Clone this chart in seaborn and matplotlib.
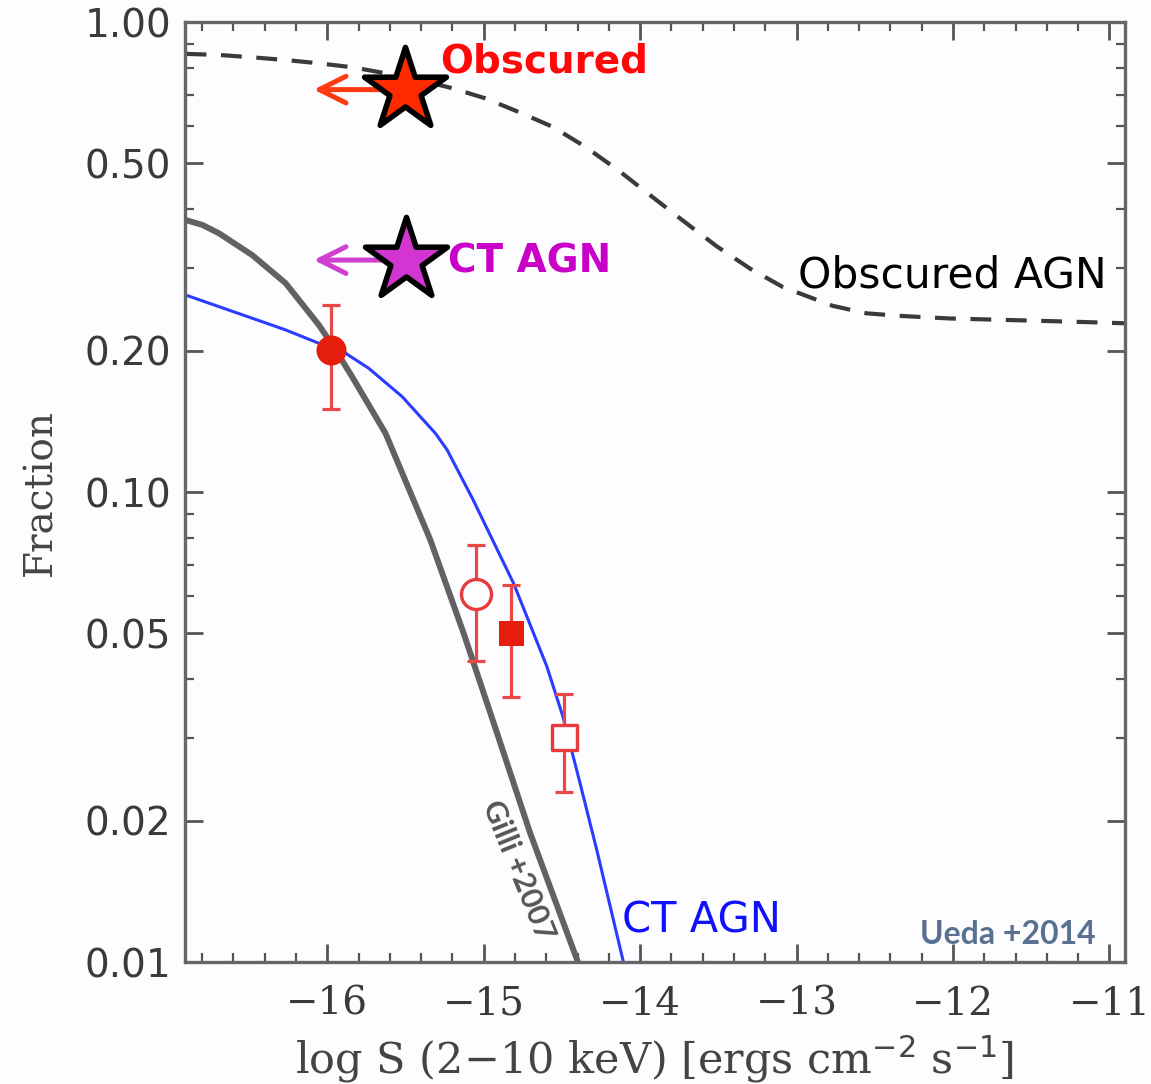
import numpy as np
import pandas as pd
import matplotlib
matplotlib.use("Agg")
import matplotlib.pyplot as plt
import seaborn as sns
from matplotlib.ticker import FixedLocator, LogLocator, MultipleLocator, NullFormatter

# ---------------- data ----------------
# Obscured AGN fraction curve (dashed)
obs_x = [-16.906, -16.883, -16.694, -16.477, -16.266, -16.056, -15.839, -15.628, -15.418,
         -15.201, -14.990, -14.779, -14.562, -14.352, -14.141, -13.924, -13.713,
         -13.509, -13.299, -13.088, -12.770, -12.553, -12.341, -12.022, -11.595,
         -11.173, -10.893]
obs_y = [0.856, 0.855, 0.851, 0.841, 0.830, 0.817, 0.801, 0.778, 0.753,
         0.723, 0.688, 0.644, 0.599, 0.543, 0.484, 0.425, 0.375,
         0.333, 0.299, 0.273, 0.249, 0.240, 0.237, 0.234, 0.232,
         0.230, 0.2285]

# CT AGN fraction curve, Ueda +2014 (blue)
ct_x = [-16.906, -16.692, -16.479, -16.266, -16.054, -15.883, -15.735, -15.521,
        -15.309, -15.234, -15.067, -14.809, -14.596, -14.494, -14.384, -14.277, -14.107]
ct_y = [0.2625, 0.2479, 0.2342, 0.2212, 0.2072, 0.1973, 0.1833, 0.1595,
        0.1333, 0.1229, 0.0961, 0.0639, 0.0425, 0.0333, 0.0240, 0.0173, 0.0100]

# Gilli +2007 curve (gray)
gilli_x = [-16.906, -16.798, -16.692, -16.479, -16.266, -16.054, -15.947, -15.842,
           -15.628, -15.341, -15.128, -14.915, -14.703, -14.398]
gilli_y = [0.379, 0.370, 0.355, 0.319, 0.278, 0.2266, 0.2005, 0.176,
           0.1333, 0.0790, 0.0500, 0.0307, 0.0188, 0.0100]

# data points with error bars
pt_x = [-15.977, -15.047, -14.824, -14.484]
pt_y = [0.2005, 0.0607, 0.0502, 0.0301]
pt_lo = [0.150, 0.0437, 0.0367, 0.0230]
pt_hi = [0.250, 0.0771, 0.0634, 0.0372]
pt_marker = ["o", "o", "s", "s"]
pt_filled = [True, False, True, False]

# stars (upper limits in flux)
star_x = [-15.503, -15.495]
star_y = [0.718, 0.3115]
star_arrow_to = [-16.087, -16.087]
star_labels = ["Obscured", "CT AGN"]

x_ticks = [-16, -15, -14, -13, -12, -11]
x_ticklabels = ["\u221216", "\u221215", "\u221214", "\u221213", "\u221212", "\u221211"]
y_ticks = [0.01, 0.02, 0.05, 0.10, 0.20, 0.50, 1.00]
y_ticklabels = ["0.01", "0.02", "0.05", "0.10", "0.20", "0.50", "1.00"]

# ---------------- style ----------------
sns.set_theme(style="white")
plt.rcParams["font.family"] = ["DejaVu Sans"]

W, H, DPI = 1151, 1084, 100
BG = "#fdfcff"
fig = plt.figure(figsize=(W / DPI, H / DPI), dpi=DPI, facecolor=BG)
ax = fig.add_axes([185 / W, 1 - 962 / H, (1125 - 185) / W, (962 - 22) / H])
ax.set_facecolor(BG)

ax.set_yscale("log")
ax.set_xlim(-16.91, -10.90)
ax.set_ylim(0.01, 1.0)

obs_df = pd.DataFrame({"x": obs_x, "y": obs_y})
ct_df = pd.DataFrame({"x": ct_x, "y": ct_y})
gilli_df = pd.DataFrame({"x": gilli_x, "y": gilli_y})

sns.lineplot(data=obs_df, x="x", y="y", ax=ax, color="#3a3a3a", lw=3.0,
             linestyle=(0, (5, 3.5)), sort=True, estimator=None)
sns.lineplot(data=gilli_df, x="x", y="y", ax=ax, color="#626262", lw=4.3,
             sort=True, estimator=None)
sns.lineplot(data=ct_df, x="x", y="y", ax=ax, color="#2a3cff", lw=2.2,
             sort=True, estimator=None)

# error bars
red = "#e41e0a"
for x, y, lo, hi in zip(pt_x, pt_y, pt_lo, pt_hi):
    ax.errorbar([x], [y], yerr=[[y - lo], [hi - y]], fmt="none", ecolor="#ea4848",
                elinewidth=2.3, capsize=6.5, capthick=2.3, zorder=3)
pts = pd.DataFrame({"x": pt_x, "y": pt_y, "m": pt_marker, "f": pt_filled})
for i, row in pts.iterrows():
    size = 30 if row["m"] == "o" else 25
    sns.scatterplot(x=[row["x"]], y=[row["y"]], ax=ax, marker=row["m"],
                    s=(size * 0.72) ** 2,
                    color=red if row["f"] else BG,
                    edgecolor=red if row["f"] else "#e83a3a",
                    linewidth=0 if row["f"] else 2.4, zorder=4)

# stars with arrows
star_colors = ["#ff2a00", "#d235d2"]
arrow_colors = ["#ff3a10", "#d040d0"]
text_colors = ["#ff0808", "#c800c8"]
text_pos = [(-15.277, 0.779), (-15.226, 0.2937)]
for x, y, xt, lab, sc, ac, tc, tp in zip(star_x, star_y, star_arrow_to, star_labels,
                                        star_colors, arrow_colors, text_colors, text_pos):
    ax.annotate("", xy=(xt, y), xytext=(x, y),
                arrowprops=dict(arrowstyle="->,head_length=1.6,head_width=0.8",
                                color=ac, lw=3.6, shrinkA=0, shrinkB=0), zorder=5)
    sns.scatterplot(x=[x], y=[y], ax=ax, marker="*", s=62 ** 2, color=sc,
                    edgecolor="black", linewidth=4, zorder=6)
    ax.text(tp[0], tp[1], lab, color=tc, fontsize=28, fontweight="bold",
            family="DejaVu Sans", ha="left", va="baseline", zorder=7)

# curve labels
ax.text(-12.992, 0.2717, "Obscured AGN", color="black", fontsize=30.5,
        family="DejaVu Sans", ha="left", va="baseline")
ax.text(-14.115, 0.01156, "CT AGN", color="#1010ff", fontsize=30,
        family="DejaVu Sans", ha="left", va="baseline")
ax.text(-11.09, 0.01093, "Ueda +2014", color="#5a7090", fontsize=23, family="Lato",
        fontweight="bold", ha="right", va="baseline")
ax.text(-14.78, 0.0157, "Gilli +2007", color="#555555", fontsize=22, family="Lato",
        fontweight="bold", ha="center", va="center", rotation=-68)

# ticks
ax.xaxis.set_major_locator(FixedLocator(x_ticks))
ax.xaxis.set_minor_locator(MultipleLocator(0.2))
ax.set_xticklabels(x_ticklabels, family="DejaVu Serif", fontsize=28, color="#3a3a3a")
ax.yaxis.set_major_locator(FixedLocator(y_ticks))
ax.yaxis.set_minor_locator(LogLocator(base=10, subs=np.arange(2, 10) * 1.0))
ax.yaxis.set_minor_formatter(NullFormatter())
ax.set_yticklabels(y_ticklabels, fontsize=28, color="#3a3a3a")
ax.tick_params(which="both", direction="in", bottom=True, left=True, top=True,
               right=True, color="#555555")
ax.tick_params(which="major", length=13, width=2, pad=10)
ax.tick_params(which="minor", length=6.5, width=1.6)
ax.tick_params(axis="x", which="major", pad=17)

for s in ax.spines.values():
    s.set_color("#666666")
    s.set_linewidth(2.4)

ax.set_xlabel("log S (2\u221210 keV) [ergs cm$^{-2}$ s$^{-1}$]", family="DejaVu Serif",
              fontsize=31, color="#444444", labelpad=8)
ax.set_ylabel("Fraction", family="DejaVu Serif", fontsize=28, color="#444444",
              labelpad=18)

fig.savefig("out.png", dpi=DPI, facecolor=fig.get_facecolor())
